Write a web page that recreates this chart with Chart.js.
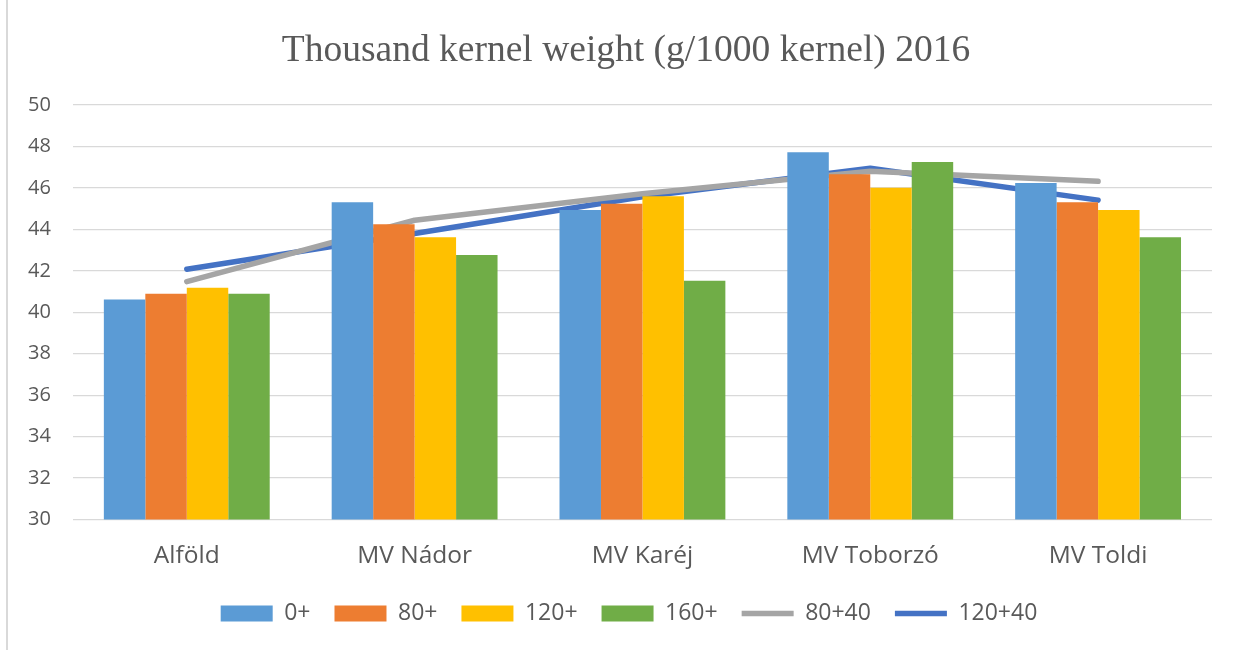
<!DOCTYPE html>
<html>
<head>
<meta charset="utf-8">
<script src="https://cdn.jsdelivr.net/npm/chart.js@4"></script>
<style>
  html, body { margin: 0; padding: 0; background: #fff; }
  #wrap { position: relative; width: 1239px; height: 650px; }
  #frame { position: absolute; left: 6px; top: 0; width: 0; height: 650px; border-left: 2px solid #d9d9d9; }
  canvas { position: absolute; left: 0; top: 0; }
</style>
</head>
<body>
<div id="wrap">
  <div id="frame"></div>
  <canvas id="kernelChart" width="1239" height="650"></canvas>
</div>
<script>
const fajtak = ["Alföld", "MV Nádor", "MV Karéj", "MV Toborzó", "MV Toldi"];

// bars
const n0 = [40.62, 45.31, 44.93, 47.72, 46.24];
const n80 = [40.9, 44.25, 45.24, 46.66, 45.31];
const n120 = [41.18, 43.62, 45.6, 46.01, 44.94];
const n160 = [40.9, 42.77, 41.52, 47.25, 43.62];

// lines
const n80_40 = [41.48, 44.44, 45.72, 46.8, 46.32];
const n120_40 = [42.08, 43.8, 45.57, 46.95, 45.41];

const yTicks = [30, 32, 34, 36, 38, 40, 42, 44, 46, 48, 50];

const szurke = "#595959";

function bar(label, data, color) {
    return {
        type: "bar",
        label: label,
        data: data,
        backgroundColor: color,
        borderWidth: 0,
        pointStyle: "rect",
        barPercentage: 1.0,
        categoryPercentage: 0.728,
    };
}

function vonal(label, data, color) {
    return {
        type: "line",
        label: label,
        data: data,
        borderColor: color,
        backgroundColor: color,
        borderWidth: 5.5,
        borderCapStyle: "round",
        borderJoinStyle: "round",
        pointRadius: 0,
        pointStyle: "line",
        tension: 0,
    };
}

// title and legend sit a bit right of the plot centre, like in Excel
const eltolas = {
    id: "eltolas",
    afterLayout(chart) {
        if (chart.titleBlock) { chart.titleBlock.left += 17; chart.titleBlock.right += 17; }
        if (chart.legend) { chart.legend.left += 20; chart.legend.right += 20; }
    }
};

const kernelChart = new Chart(document.getElementById("kernelChart"), {
    type: "bar",
    data: {
        labels: fajtak,
        datasets: [
            bar("0+", n0, "#5B9BD5"),
            bar("80+", n80, "#ED7D31"),
            bar("120+", n120, "#FFC000"),
            bar("160+", n160, "#70AD47"),
            vonal("80+40", n80_40, "#A5A5A5"),
            vonal("120+40", n120_40, "#4472C4"),
        ]
    },
    plugins: [eltolas],
    options: {
        responsive: false,
        animation: false,
        layout: { padding: { left: 6, right: 27, top: 0, bottom: 15 } },
        plugins: {
            title: {
                display: true,
                text: "Thousand kernel weight (g/1000 kernel) 2016",
                color: szurke,
                font: { family: "Liberation Serif", size: 37.5, weight: "normal" },
                padding: { top: 29, bottom: 31 }
            },
            legend: {
                position: "bottom",
                labels: {
                    usePointStyle: true,
                    pointStyleWidth: 52,
                    boxHeight: 16,
                    padding: 24,
                    color: szurke,
                    font: { family: "Open Sans", size: 23 }
                }
            },
            tooltip: { enabled: false }
        },
        scales: {
            x: {
                grid: { display: false, drawTicks: false },
                border: { display: false },
                ticks: {
                    color: szurke,
                    padding: 22,
                    font: { family: "Open Sans", size: 24.5 }
                },
                afterFit: (scale) => { scale.height -= 15; }
            },
            y: {
                min: 30,
                max: 50,
                afterBuildTicks: (scale) => { scale.ticks = yTicks.map(v => ({ value: v })); },
                grid: { color: "#d9d9d9", lineWidth: 1.3, drawTicks: false },
                border: { display: false },
                ticks: {
                    color: szurke,
                    padding: 22,
                    font: { family: "Open Sans", size: 20 }
                }
            }
        }
    }
});
</script>
</body>
</html>
